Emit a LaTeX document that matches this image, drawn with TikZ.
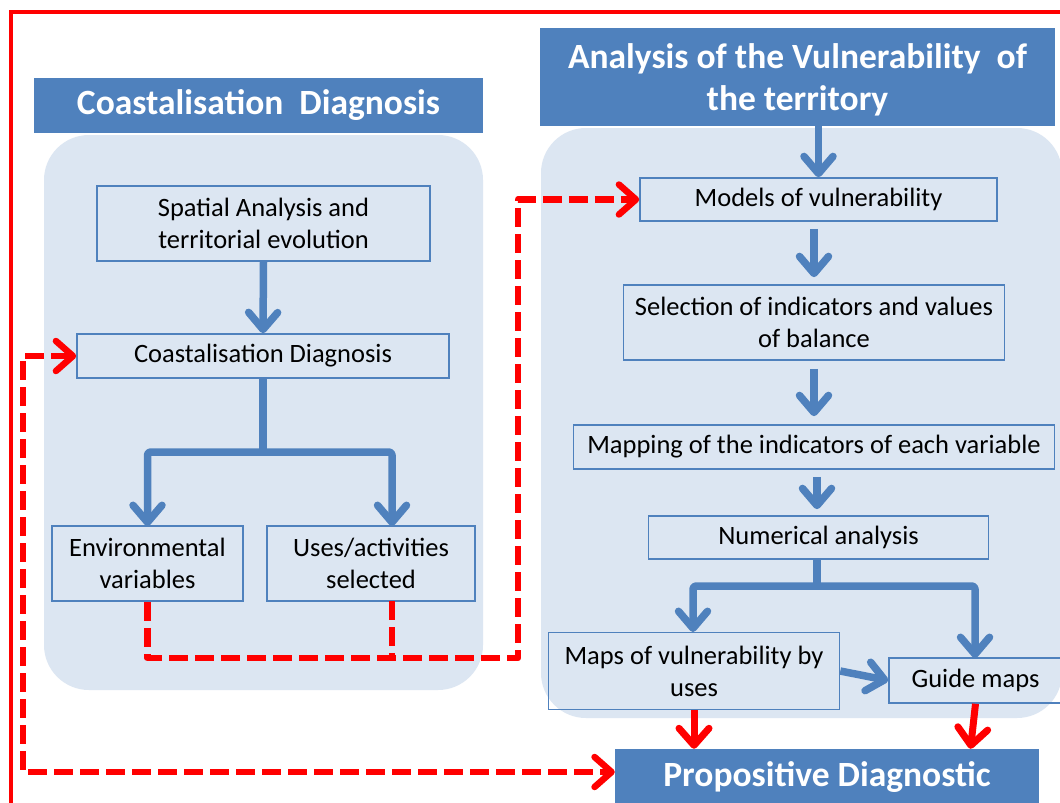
\documentclass[tikz,border=0pt]{standalone}
\usepackage{fontspec}
\setmainfont{Carlito}
\usetikzlibrary{arrows.meta,calc}
\definecolor{myblue}{HTML}{4F81BD}
\definecolor{panelblue}{HTML}{DCE6F2}
\definecolor{myred}{HTML}{FF0000}
\tikzset{rtip/.tip={Straight Barb[length=17pt,width=30pt,round]},
         btip/.tip={Straight Barb[length=17pt,width=29pt,round]}}
\begin{document}
\begin{tikzpicture}[x=1pt,y=-1pt,
  box/.style={draw=myblue, line width=1.6pt, inner sep=0pt, align=center, font=\fontsize{26.5}{32}\selectfont},
  titlebox/.style={fill=myblue, text=white, inner sep=0pt, align=center, font=\fontsize{35.5}{42}\selectfont\bfseries},
  panel/.style={fill=panelblue, rounded corners=45pt},
  bline/.style={draw=myblue, line width=7.5pt, line join=round},
  barrow/.style={bline, -{btip}},
  rarrow/.style={draw=myred, line width=7pt, -{rtip}},
  rdash/.style={draw=myred, line width=6.5pt, dash pattern=on 19pt off 7pt, line join=round}
]
\useasboundingbox (0,0) rectangle (1060,803);
\fill[white] (0,0) rectangle (1060,803);
% panels
\fill[panel] (44,135) rectangle (483,690);
\fill[panel] (541,128) rectangle (1062,718);
% titles
\node[titlebox, minimum width=449pt, minimum height=55pt] (lt) at (258.5,105.5) {Coastalisation\ \ Diagnosis};
\node[titlebox, minimum width=515pt, minimum height=98pt, text depth=0pt] (rt) at (797.5,77) {Analysis of the Vulnerability\ \ of\\the territory};
\node[titlebox, minimum width=424pt, minimum height=56pt] (prop) at (827,777) {Propositive Diagnostic};
% left boxes
\node[box, minimum width=333pt, minimum height=75pt] (sp) at (263.5,223.5) {Spatial Analysis and\\territorial evolution};
\node[box, minimum width=372pt, minimum height=44pt] (cd) at (263,356) {Coastalisation Diagnosis};
\node[box, minimum width=191pt, minimum height=75pt] (env) at (147.5,563.5) {Environmental\\variables};
\node[box, minimum width=208pt, minimum height=75pt] (uses) at (371,563.5) {Uses/activities\\selected};
% right boxes
\node[box, minimum width=357pt, minimum height=43pt] (models) at (818.5,199.5) {Models of vulnerability};
\node[box, minimum width=381pt, minimum height=75pt] (sel) at (814,322.5) {Selection of indicators and values\\of balance};
\node[box, minimum width=481pt, minimum height=44pt] (map) at (814,447) {Mapping of the indicators of each variable};
\node[box, minimum width=340pt, minimum height=43pt] (num) at (818.5,537.5) {Numerical analysis};
\node[box, minimum width=291pt, minimum height=77pt] (maps) at (694,671) {Maps of vulnerability by\\uses};
\node[box, minimum width=173pt, minimum height=45pt] (guide) at (975.5,680.5) {Guide maps};
% coordinates
\coordinate (cdj) at (263,452);
\coordinate (envt) at (147.5,526);
\coordinate (usest) at (392,526);
\coordinate (numj) at (817,586);
\coordinate (mapst) at (693,632);
\coordinate (guidet) at (975,658);
\coordinate (usesb) at (392,601);
\coordinate (rj) at (518,658);
\coordinate (lj) at (23,772);
% blue connectors left
\draw[barrow] (sp.south) -- (cd.north);
\draw[bline] (cd.south) -- (cdj);
\draw[barrow, rounded corners=3pt] (cdj) -| (envt);
\draw[barrow, rounded corners=3pt] (cdj) -| (usest);
% blue connectors right
\draw[barrow] (models.north |- rt.south) -- (models.north);
\draw[barrow, shorten <=7pt, shorten >=7pt] (sel.north |- models.south) -- (sel.north);
\draw[barrow, shorten <=8pt, shorten >=8pt] (sel.south) -- (sel.south |- map.north);
\draw[barrow, shorten <=7pt, shorten >=6pt] (map.south -| numj) -- (num.north -| numj);
\draw[bline] (num.south -| numj) -- (numj);
\draw[barrow, rounded corners=3pt] (numj) -| (mapst);
\draw[barrow, rounded corners=3pt] (numj) -| (guidet);
\draw[barrow] (maps.east) -- (guide.west);
% red solid arrows
\draw[rarrow] (maps.south) -- (maps.south |- prop.north);
\draw[rarrow] (guide.south) -- ($(guide.south |- prop.north)+(-5,0)$);
% red dashed connectors
\draw[rdash, -{rtip}] (env.south) |- (rj) |- (models.west);
\draw[rdash] (usesb) -- (usesb |- rj);
\draw[rdash, {rtip}-{rtip}] (cd.west) -| (lj) -- (lj -| prop.west);
% red frame
\draw[myred, line width=4pt] (1064,12) -- (11,12) -- (11,806);
\end{tikzpicture}
\end{document}
